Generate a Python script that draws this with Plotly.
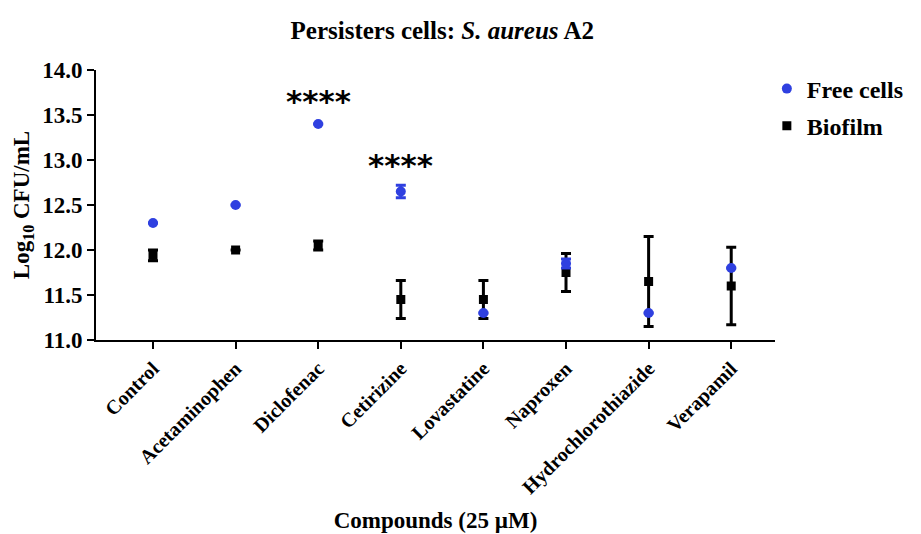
import plotly.graph_objects as go

compounds = ["Control", "Acetaminophen", "Diclofenac", "Cetirizine", "Lovastatine",
             "Naproxen", "Hydrochlorothiazide", "Verapamil"]
free_cells = [12.30, 12.50, 13.40, 12.65, 11.30, 11.85, 11.30, 11.80]
free_err = [0.0, 0.0, 0.0, 0.07, 0.0, 0.05, 0.0, 0.0]
biofilm = [11.94, 12.00, 12.05, 11.45, 11.45, 11.75, 11.65, 11.60]
biofilm_err = [0.06, 0.0, 0.05, 0.21, 0.21, 0.21, 0.50, 0.43]
sig_labels = ["", "", "****", "****", "", "", "", ""]
sig_y = [None, None, 13.66, 12.94, None, None, None, None]
y_ticks = [11.0, 11.5, 12.0, 12.5, 13.0, 13.5, 14.0]

FONT = "Liberation Serif"
BLUE = "#2f40e0"

fig = go.Figure()
fig.add_trace(go.Scatter(
    x=compounds, y=biofilm, mode="markers", name="<b>Biofilm</b>",
    legendgroup="b", legendrank=2,
    marker=dict(symbol="square", size=9, color="black"),
    error_y=dict(type="data", array=biofilm_err, color="black", thickness=3, width=5),
))
fig.add_trace(go.Scatter(
    x=compounds, y=free_cells, mode="markers", name="<b>Free cells</b>",
    legendgroup="a", legendrank=1,
    marker=dict(symbol="circle", size=10, color=BLUE),
    error_y=dict(type="data", array=free_err, color=BLUE, thickness=3, width=5),
))

for c, lab, yv in zip(compounds, sig_labels, sig_y):
    if lab:
        fig.add_annotation(x=c, y=yv, text="<b>" + lab + "</b>", showarrow=False,
                           font=dict(family="DejaVu Sans", size=31, color="black"))

fig.update_layout(
    width=921, height=534,
    margin=dict(l=85, r=154, t=62, b=202),
    paper_bgcolor="white", plot_bgcolor="white",
    font=dict(family=FONT, color="black"),
    title=dict(text="<b>Persisters cells: <i>S. aureus</i> A2</b>",
               x=0.51, xref="paper", xanchor="center", y=0.959, yref="container",
               yanchor="middle",
               font=dict(family=FONT, size=25, color="black")),
    showlegend=True,
    legend=dict(x=0.988, xanchor="left", y=1.013, yanchor="top",
                traceorder="grouped", tracegroupgap=3,
                font=dict(family=FONT, size=24, color="black"),
                bgcolor="rgba(0,0,0,0)", itemwidth=30),
    xaxis=dict(
        type="category", range=[-0.69, 7.53],
        showline=True, linecolor="black", linewidth=2,
        ticks="outside", ticklen=7, tickwidth=2, tickcolor="black",
        tickangle=-45, showgrid=False, zeroline=False,
        tickfont=dict(family=FONT, size=20, color="black"),
        tickprefix="<b>", ticksuffix="</b>",
        title=dict(text="<b>Compounds (25 µM)</b>", standoff=14,
                   font=dict(family=FONT, size=23, color="black")),
    ),
    yaxis=dict(
        range=[11.0, 14.0], tickvals=y_ticks,
        ticktext=["<b>%.1f</b>" % v for v in y_ticks],
        showline=True, linecolor="black", linewidth=2,
        ticks="outside", ticklen=7, tickwidth=2, tickcolor="black",
        showgrid=False, zeroline=False,
        tickfont=dict(family=FONT, size=23, color="black"),
        title=dict(text="<b>Log<sub>10</sub> CFU/mL</b>", standoff=6,
                   font=dict(family=FONT, size=23, color="black")),
    ),
)

fig.write_html("out.html")
